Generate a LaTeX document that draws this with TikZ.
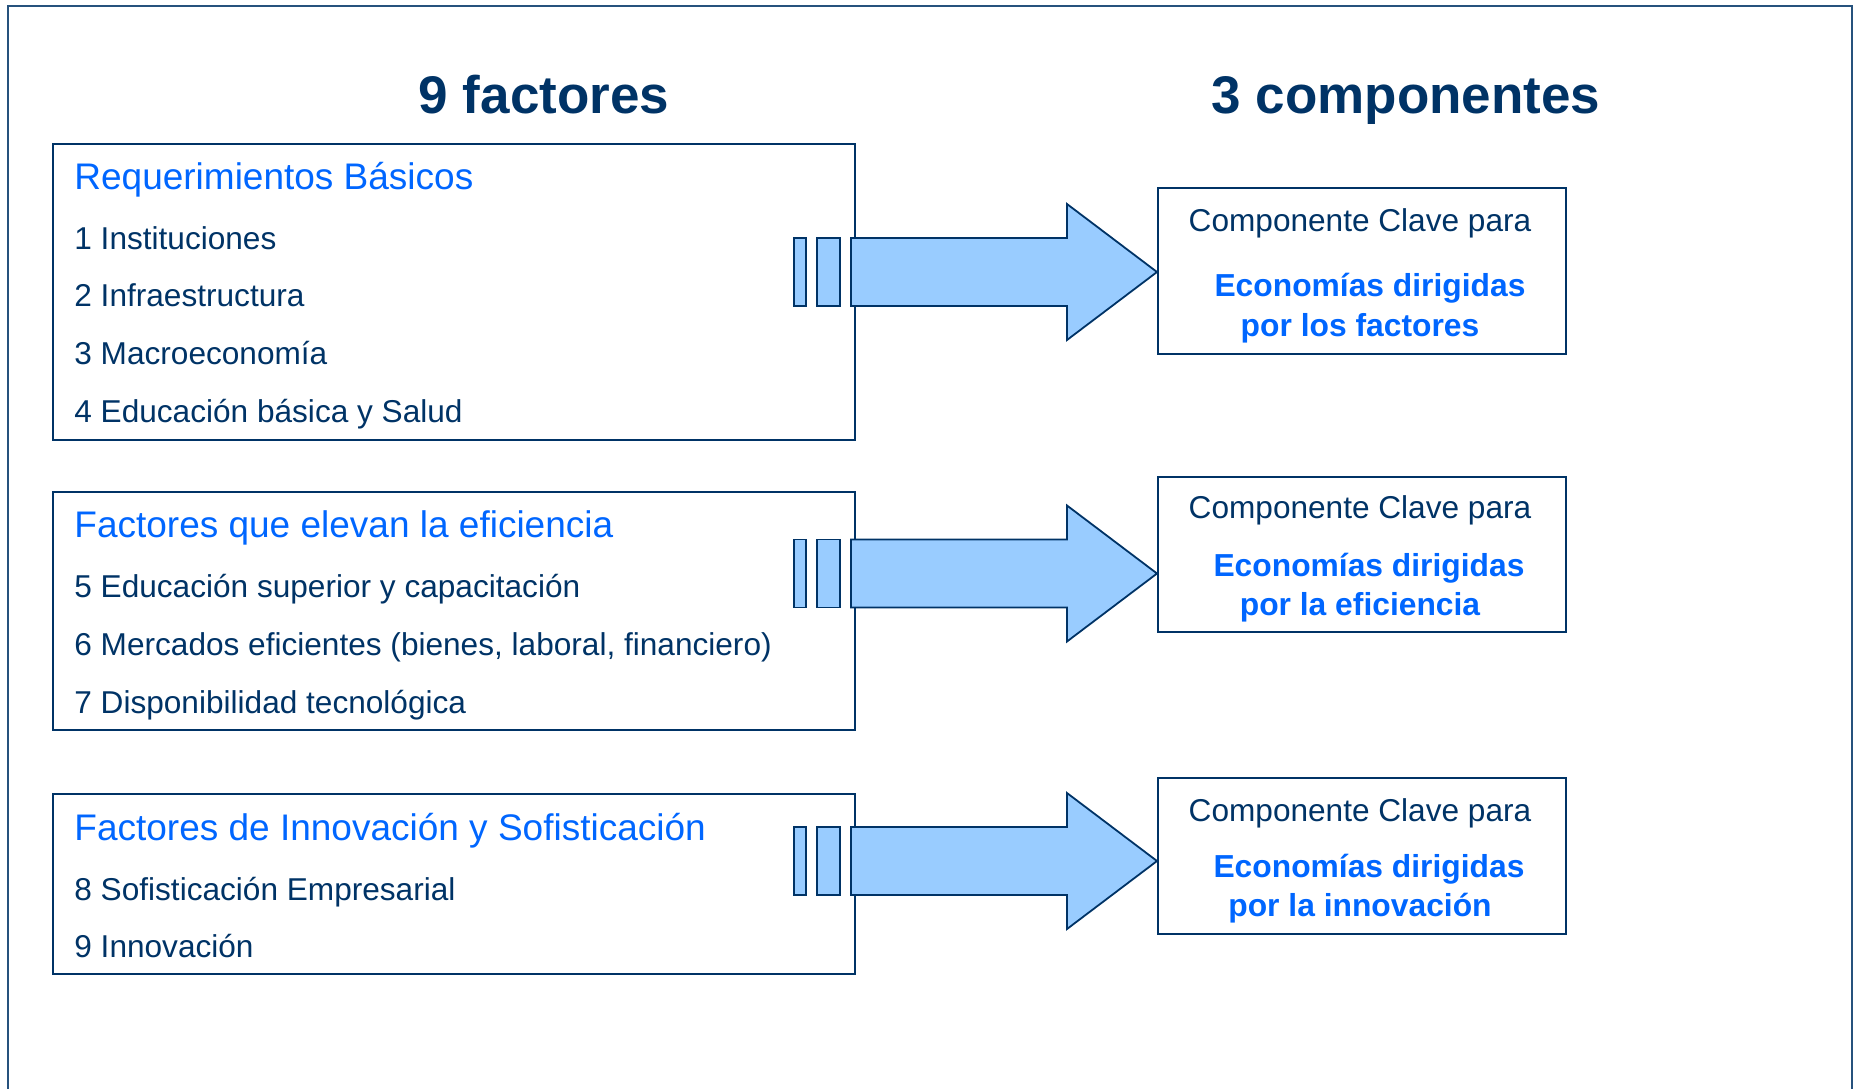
\documentclass[tikz,border=0pt]{standalone}
\usepackage{fontspec}
\setmainfont{Liberation Sans}
\usepackage{xcolor}
\usepackage{tikz}

\definecolor{navy}{RGB}{0,51,102}
\definecolor{headblue}{RGB}{0,102,255}
\definecolor{arrowblue}{RGB}{153,204,255}

\begin{document}
\begin{tikzpicture}[x=0.5pt, y=-0.5pt,
    every node/.style={inner sep=0pt, text=navy},
    factbox/.style={draw=navy, line width=1pt, rectangle, anchor=north west, minimum width=401pt},
    compbox/.style={draw=navy, line width=1pt, rectangle, anchor=north west, minimum width=204pt},
    item/.style={anchor=base west, font=\fontsize{15.8pt}{19pt}\selectfont},
    head/.style={anchor=base west, text=headblue, font=\fontsize{18.5pt}{22pt}\selectfont},
    comp/.style={anchor=base, font=\fontsize{15.8pt}{19pt}\selectfont},
    econ/.style={anchor=base, text=headblue, font=\bfseries\fontsize{15.9pt}{19pt}\selectfont},
    fatarrow/.style={draw=navy, line width=0.9pt, fill=arrowblue, line join=miter}]
            \useasboundingbox (0,0) rectangle (1857,1088);
            % Frame
            \draw[navy!85!white, line width=1.2pt] (8,1092) -- (8,6) -- (1852,6) -- (1852,1092);
            % Titles
            \node[anchor=base, font=\bfseries\fontsize{26.5pt}{30pt}\selectfont] (tfact) at (544,113) {9 factores};
            \node[anchor=base, font=\bfseries\fontsize{26.5pt}{30pt}\selectfont] (tcomp) at (1406,113) {3 componentes};
            % Factor boxes
            \node[factbox, minimum height=148pt] (fb1) at (52,143) {};
            \node[factbox, minimum height=119pt] (fb2) at (52,491) {};
            \node[factbox, minimum height=90pt] (fb3) at (52,793) {};
            \node[head] (h1) at (74,189) {Requerimientos Básicos};
            \node[item] (f1) at (74,249) {1 Instituciones};
            \node[item] (f2) at (74,306) {2 Infraestructura};
            \node[item] (f3) at (74,364) {3 Macroeconomía};
            \node[item] (f4) at (74,422) {4 Educación básica y Salud};
            \node[head] (h2) at (74,537) {Factores que elevan la eficiencia};
            \node[item] (f5) at (74,597) {5 Educación superior y capacitación};
            \node[item] (f6) at (74,655) {6 Mercados eficientes (bienes, laboral, financiero)};
            \node[item] (f7) at (74,713) {7 Disponibilidad tecnológica};
            \node[head] (h3) at (74,840) {Factores de Innovación y Sofisticación};
            \node[item] (f8) at (74,900) {8 Sofisticación Empresarial};
            \node[item] (f9) at (74,957) {9 Innovación};
            % Component boxes
            \node[compbox, minimum height=83pt] (cb1) at (1157,187) {};
            \node[compbox, minimum height=77.5pt] (cb2) at (1157,476) {};
            \node[compbox, minimum height=78pt] (cb3) at (1157,777) {};
            \node[comp] (c1) at (1360,231) {Componente Clave para};
            \node[econ] (e1a) at (1370,296) {Economías dirigidas};
            \node[econ] (e1b) at (1360,336) {por los factores};
            \node[comp] (c2) at (1360,518) {Componente Clave para};
            \node[econ] (e2a) at (1369,576) {Economías dirigidas};
            \node[econ] (e2b) at (1360,615) {por la eficiencia};
            \node[comp] (c3) at (1360,821) {Componente Clave para};
            \node[econ] (e3a) at (1369,877) {Economías dirigidas};
            \node[econ] (e3b) at (1360,916) {por la innovación};
            % Arrows
            \foreach \c/\dy in {cb1/-0.5, cb2/-9.5, cb3/-2.5} {
                \coordinate (tip) at ([yshift=\dy pt]\c.west);
                \draw[fatarrow] (tip) -- ++(-90,-68) -- ++(0,34) -- ++(-216,0) -- ++(0,68)
                    -- ++(216,0) -- ++(0,34) -- cycle;
                \draw[fatarrow] (tip) ++(-340,-34) rectangle ++(23,68);
                \draw[fatarrow] (tip) ++(-363,-34) rectangle ++(12,68);
            }
\end{tikzpicture}
\end{document}
